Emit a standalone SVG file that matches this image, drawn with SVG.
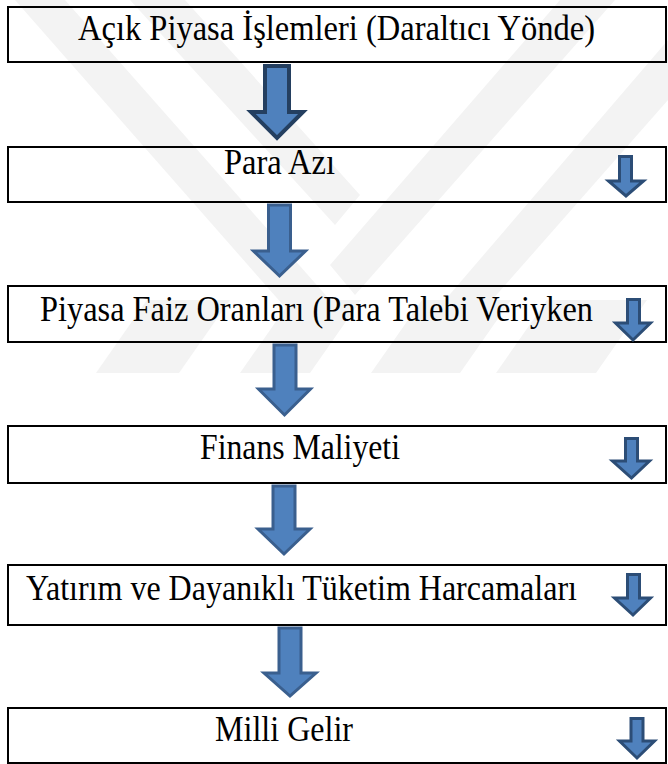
<svg xmlns="http://www.w3.org/2000/svg" width="668" height="764" viewBox="0 0 668 764">
<style>
.wm{fill:#f3f3f3}
.box{fill:none;stroke:#000;stroke-width:2}
.t{font-family:"Liberation Serif","Times New Roman",serif;font-size:35px;fill:#000}
.big{fill:#4f81bd;stroke:#3a5f8e;stroke-width:3;stroke-linejoin:miter}
.big1{fill:#4f81bd;stroke:#243f60;stroke-width:4;stroke-linejoin:miter}
.sm{fill:#4f81bd;stroke:#2c4d76;stroke-width:3;stroke-linejoin:miter}
</style>
<rect width="668" height="764" fill="#fff"/>
<g id="watermark">
<polygon class="wm" points="15,0 65,0 330,300 305,330"/>
<polygon class="wm" points="130,0 185,0 360,195 335,225"/>
<polygon class="wm" points="560,0 615,0 355,295 330,265"/>
<polygon class="wm" points="668,40 668,100 470,325 445,300"/>
<polygon class="wm" points="96,373 179,373 230,300 147,300"/>
<polygon class="wm" points="240,373 310,373 361,300 291,300"/>
<polygon class="wm" points="371,373 460,373 511,300 422,300"/>
<polygon class="wm" points="496,373 596,373 647,300 547,300"/>
</g>
<g id="connectors">
<path class="big1" d="M265,66 L289,66 L289,112 L303,112 L277,138 L251,112 L265,112 Z"/>
<path class="big" d="M268.5,205 L290.5,205 L290.5,251 L305.5,251 L279.5,276 L253.5,251 L268.5,251 Z"/>
<path class="big" d="M274,345 L296,345 L296,389 L310.5,389 L284.5,415 L258.5,389 L274,389 Z"/>
<path class="big" d="M273,486 L295,486 L295,529 L310,529 L284,554 L258,529 L273,529 Z"/>
<path class="big" d="M279,628 L301,628 L301,673 L316,673 L290,696 L264,673 L279,673 Z"/>
</g>
<g id="n1">
<rect class="box" x="8" y="7" width="658" height="55"/>
<text class="t" x="78" y="40" textLength="517" lengthAdjust="spacingAndGlyphs">Açık Piyasa İşlemleri (Daraltıcı Yönde)</text>
</g>
<g id="n2">
<rect class="box" x="8" y="147" width="658" height="55"/>
<text class="t" x="224" y="174" textLength="111" lengthAdjust="spacingAndGlyphs">Para Azı</text>
<path class="sm" d="M619.5,156.5 L631.5,156.5 L631.5,181 L643.5,181 L626,196 L608.5,181 L619.5,181 Z"/>
</g>
<g id="n3">
<rect class="box" x="8" y="286" width="658" height="56"/>
<text class="t" x="40" y="321" textLength="553" lengthAdjust="spacingAndGlyphs">Piyasa Faiz Oranları (Para Talebi Veriyken</text>
<path class="sm" d="M627.5,299.5 L639.5,299.5 L639.5,323 L650.5,323 L633,340 L615.5,323 L627.5,323 Z"/>
</g>
<g id="n4">
<rect class="box" x="8" y="426" width="658" height="57"/>
<text class="t" x="200" y="459" textLength="200" lengthAdjust="spacingAndGlyphs">Finans Maliyeti</text>
<path class="sm" d="M625.5,438.5 L637.5,438.5 L637.5,461 L649.5,461 L631.5,478 L612.5,461 L625.5,461 Z"/>
</g>
<g id="n5">
<rect class="box" x="8" y="565" width="658" height="60"/>
<text class="t" x="26" y="600" textLength="551" lengthAdjust="spacingAndGlyphs">Yatırım ve Dayanıklı Tüketim Harcamaları</text>
<path class="sm" d="M627.5,574.5 L639.5,574.5 L639.5,598 L650.5,598 L633,615 L614.5,598 L627.5,598 Z"/>
</g>
<g id="n6">
<rect class="box" x="8" y="708" width="658" height="55"/>
<text class="t" x="215" y="741" textLength="138" lengthAdjust="spacingAndGlyphs">Milli Gelir</text>
<path class="sm" d="M631,718.5 L643,718.5 L643,741 L654.5,741 L637,758 L619.5,741 L631,741 Z"/>
</g>
</svg>
